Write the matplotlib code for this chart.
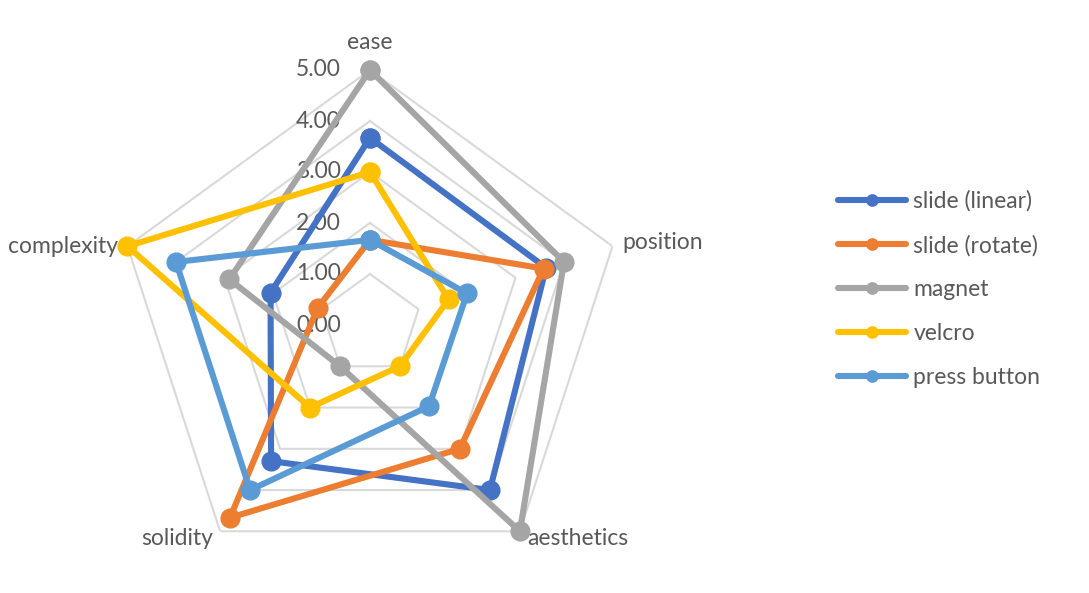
import numpy as np
import matplotlib
matplotlib.use("Agg")
import matplotlib.pyplot as plt

# datos del grafico radar
categorias = ["ease", "position", "aesthetics", "solidity", "complexity"]
series = ["slide (linear)", "slide (rotate)", "magnet", "velcro", "press button"]
slide_linear = [3.67, 3.63, 4.0, 3.3, 2.05]
slide_rotate = [1.67, 3.58, 3.0, 4.67, 1.08]
magnet = [5.0, 4.0, 5.0, 1.0, 2.9]
velcro = [3.0, 1.62, 1.0, 2.0, 5.0]
press_button = [1.67, 2.0, 1.97, 4.0, 4.0]
ticks = [0, 1, 2, 3, 4, 5]
tick_labels = ["0.00", "1.00", "2.00", "3.00", "4.00", "5.00"]

colores = ["#4472C4", "#ED7D31", "#A5A5A5", "#FFC000", "#5B9BD5"]
texto = "#595959"

plt.rcParams["font.family"] = ["Lato", "DejaVu Sans"]

W, H = 1089, 593
fig = plt.figure(figsize=(W / 100, H / 100), dpi=100)
cx, cy, rad = 370, 325, 255
ax = fig.add_axes([(cx - rad) / W, (H - cy - rad) / H, 2 * rad / W, 2 * rad / H],
                  projection="polar")
ax.set_theta_zero_location("N")
ax.set_theta_direction(-1)
ax.set_ylim(0, 5)
ax.set_xticks([])
ax.set_yticks([])
ax.grid(False)
ax.spines["polar"].set_visible(False)
ax.patch.set_visible(False)

angulos = np.linspace(0, 2 * np.pi, len(categorias), endpoint=False)
cerrado = np.append(angulos, angulos[0])

# rejilla pentagonal
for r in ticks[1:]:
    ax.plot(cerrado, [r] * len(cerrado), color="#D9D9D9", lw=1.5, zorder=1)

# etiquetas del eje radial
for r, lab in zip(ticks, tick_labels):
    ax.annotate(lab, xy=(0, r), xytext=(-21, 0), textcoords="offset points",
                ha="right", va="center", fontsize=16.5, color=texto,
                annotation_clip=False)

# etiquetas de categorias
offsets = [((0, 12), "center", "bottom"),
           ((7, 3), "left", "center"),
           ((5, -5), "left", "center"),
           ((-5, -5), "right", "center"),
           ((-7, 0), "right", "center")]
for ang, cat, (off, ha, va) in zip(angulos, categorias, offsets):
    ax.annotate(cat, xy=(ang, 5), xytext=off, textcoords="offset points",
                ha=ha, va=va, fontsize=16.5, color=texto, annotation_clip=False)

datos = [slide_linear, slide_rotate, magnet, velcro, press_button]
for i, (nombre, vals) in enumerate(zip(series, datos)):
    v = np.append(vals, vals[0])
    ax.plot(cerrado, v, color=colores[i], lw=4.4, marker="o", markersize=13.5,
            solid_capstyle="round", solid_joinstyle="round", label=nombre,
            zorder=3 + i, clip_on=False)

handles, labels = ax.get_legend_handles_labels()
leg = fig.legend(handles, labels, loc="center left",
                 bbox_to_anchor=(817 / W, 1 - 289 / H), frameon=False,
                 fontsize=16.5, handlelength=3.0, handletextpad=0.3,
                 labelspacing=1.0, labelcolor=texto, markerscale=0.6)

fig.savefig("out.png", dpi=100)
